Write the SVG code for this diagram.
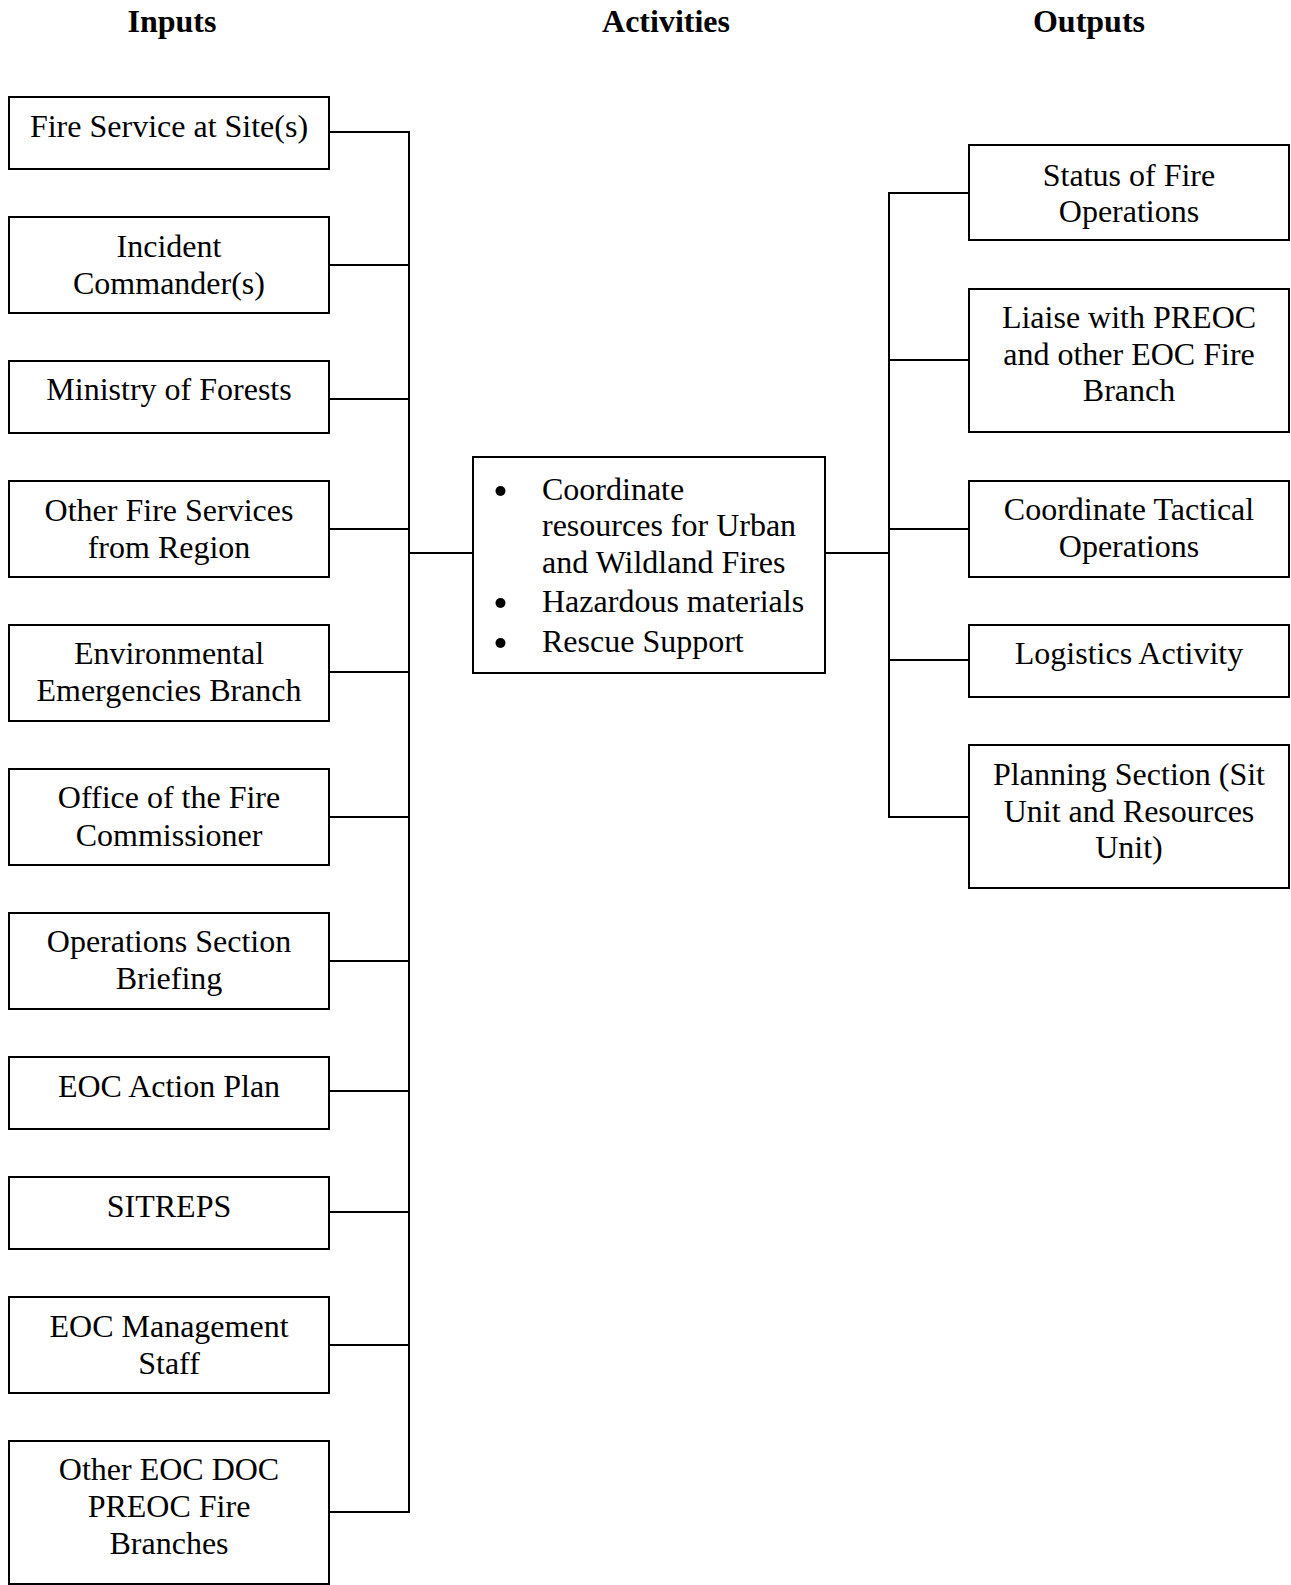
<svg xmlns="http://www.w3.org/2000/svg" width="1291" height="1585" viewBox="0 0 1291 1585">
<style>
rect.box{fill:#fff;stroke:#000;stroke-width:2}
.conn line{stroke:#000;stroke-width:2;stroke-linecap:square}
text{font-family:"Liberation Serif","Times New Roman",serif;font-size:32px;fill:#000}
text.c{text-anchor:middle}
text.h{font-weight:bold;text-anchor:middle}
</style>
<rect width="1291" height="1585" fill="#fff"/>
<g id="titles">
<text class="h" x="172" y="32">Inputs</text>
<text class="h" x="666" y="32">Activities</text>
<text class="h" x="1089" y="32">Outputs</text>
</g>
<g class="conn" id="connectors">
<line x1="409" y1="132" x2="409" y2="1512"/>
<line x1="329" y1="132" x2="409" y2="132"/>
<line x1="329" y1="265" x2="409" y2="265"/>
<line x1="329" y1="399" x2="409" y2="399"/>
<line x1="329" y1="529" x2="409" y2="529"/>
<line x1="329" y1="672" x2="409" y2="672"/>
<line x1="329" y1="817" x2="409" y2="817"/>
<line x1="329" y1="961" x2="409" y2="961"/>
<line x1="329" y1="1091" x2="409" y2="1091"/>
<line x1="329" y1="1212" x2="409" y2="1212"/>
<line x1="329" y1="1345" x2="409" y2="1345"/>
<line x1="329" y1="1512" x2="409" y2="1512"/>
<line x1="409" y1="553" x2="473" y2="553"/>
<line x1="825" y1="553" x2="889" y2="553"/>
<line x1="889" y1="193" x2="889" y2="817"/>
<line x1="889" y1="193" x2="969" y2="193"/>
<line x1="889" y1="360" x2="969" y2="360"/>
<line x1="889" y1="529" x2="969" y2="529"/>
<line x1="889" y1="660" x2="969" y2="660"/>
<line x1="889" y1="817" x2="969" y2="817"/>
</g>
<g id="in1"><rect class="box" x="9" y="97" width="320" height="72"/><text class="c" x="169" y="137">Fire Service at Site(s)</text></g>
<g id="in2"><rect class="box" x="9" y="217" width="320" height="96"/><text class="c" x="169" y="257">Incident</text><text class="c" x="169" y="294">Commander(s)</text></g>
<g id="in3"><rect class="box" x="9" y="361" width="320" height="72"/><text class="c" x="169" y="400">Ministry of Forests</text></g>
<g id="in4"><rect class="box" x="9" y="481" width="320" height="96"/><text class="c" x="169" y="521">Other Fire Services</text><text class="c" x="169" y="558">from Region</text></g>
<g id="in5"><rect class="box" x="9" y="625" width="320" height="96"/><text class="c" x="169" y="664">Environmental</text><text class="c" x="169" y="701">Emergencies Branch</text></g>
<g id="in6"><rect class="box" x="9" y="769" width="320" height="96"/><text class="c" x="169" y="808">Office of the Fire</text><text class="c" x="169" y="846">Commissioner</text></g>
<g id="in7"><rect class="box" x="9" y="913" width="320" height="96"/><text class="c" x="169" y="952">Operations Section</text><text class="c" x="169" y="989">Briefing</text></g>
<g id="in8"><rect class="box" x="9" y="1057" width="320" height="72"/><text class="c" x="169" y="1097">EOC Action Plan</text></g>
<g id="in9"><rect class="box" x="9" y="1177" width="320" height="72"/><text class="c" x="169" y="1217">SITREPS</text></g>
<g id="in10"><rect class="box" x="9" y="1297" width="320" height="96"/><text class="c" x="169" y="1337">EOC Management</text><text class="c" x="169" y="1374">Staff</text></g>
<g id="in11"><rect class="box" x="9" y="1441" width="320" height="143"/><text class="c" x="169" y="1480">Other EOC DOC</text><text class="c" x="169" y="1517">PREOC Fire</text><text class="c" x="169" y="1554">Branches</text></g>
<g id="activities">
<rect class="box" x="473" y="457" width="352" height="216"/>
<circle cx="500.5" cy="491" r="5"/>
<circle cx="500.5" cy="603" r="5"/>
<circle cx="500.5" cy="643" r="5"/>
<text x="542" y="500">Coordinate</text>
<text x="542" y="536">resources for Urban</text>
<text x="542" y="573">and Wildland Fires</text>
<text x="542" y="612">Hazardous materials</text>
<text x="542" y="652">Rescue Support</text>
</g>
<g id="out1"><rect class="box" x="969" y="145" width="320" height="95"/><text class="c" x="1129" y="186">Status of Fire</text><text class="c" x="1129" y="222">Operations</text></g>
<g id="out2"><rect class="box" x="969" y="289" width="320" height="143"/><text class="c" x="1129" y="328">Liaise with PREOC</text><text class="c" x="1129" y="365">and other EOC Fire</text><text class="c" x="1129" y="401">Branch</text></g>
<g id="out3"><rect class="box" x="969" y="481" width="320" height="96"/><text class="c" x="1129" y="520">Coordinate Tactical</text><text class="c" x="1129" y="557">Operations</text></g>
<g id="out4"><rect class="box" x="969" y="625" width="320" height="72"/><text class="c" x="1129" y="664">Logistics Activity</text></g>
<g id="out5"><rect class="box" x="969" y="745" width="320" height="143"/><text class="c" x="1129" y="785">Planning Section (Sit</text><text class="c" x="1129" y="822">Unit and Resources</text><text class="c" x="1129" y="858">Unit)</text></g>
</svg>
